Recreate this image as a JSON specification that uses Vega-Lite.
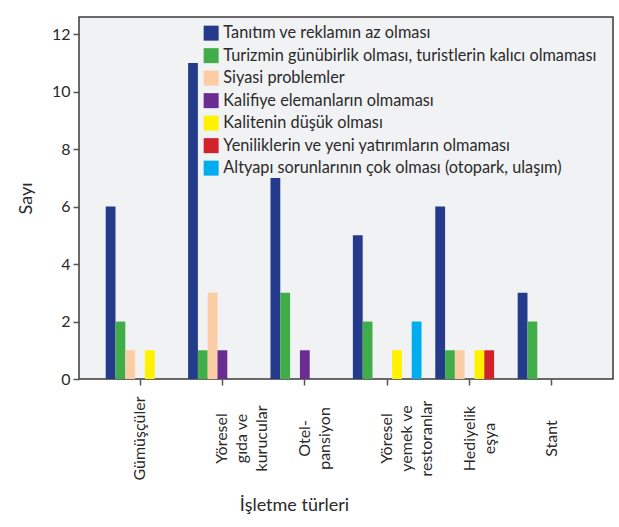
{
  "$schema": "https://vega.github.io/schema/vega-lite/v6.json",
  "width": 534,
  "height": 362,
  "autosize": {"type": "none"},
  "padding": {"left": 79, "top": 17, "right": 6, "bottom": 148},
  "background": "white",
  "config": {
    "font": "Lato",
    "view": {"fill": "#F1F2F4", "stroke": "#3a3a3a", "strokeWidth": 1.5},
    "axis": {"labelFont": "Lato", "titleFont": "Lato", "labelColor": "#2a2a2a", "titleColor": "#2a2a2a", "tickColor": "#555555", "domain": false, "grid": false}
  },
  "data": {
    "values": [
      {"isletme": "Gümüşçüler", "neden": "Tanıtım ve reklamın az olması", "sayi": 6},
      {"isletme": "Gümüşçüler", "neden": "Turizmin günübirlik olması, turistlerin kalıcı olmaması", "sayi": 2},
      {"isletme": "Gümüşçüler", "neden": "Siyasi problemler", "sayi": 1},
      {"isletme": "Gümüşçüler", "neden": "Kalifiye elemanların olmaması", "sayi": 0},
      {"isletme": "Gümüşçüler", "neden": "Kalitenin düşük olması", "sayi": 1},
      {"isletme": "Gümüşçüler", "neden": "Yeniliklerin ve yeni yatırımların olmaması", "sayi": 0},
      {"isletme": "Gümüşçüler", "neden": "Altyapı sorunlarının çok olması (otopark, ulaşım)", "sayi": 0},
      {"isletme": "Yöresel\ngıda ve\nkurucular", "neden": "Tanıtım ve reklamın az olması", "sayi": 11},
      {"isletme": "Yöresel\ngıda ve\nkurucular", "neden": "Turizmin günübirlik olması, turistlerin kalıcı olmaması", "sayi": 1},
      {"isletme": "Yöresel\ngıda ve\nkurucular", "neden": "Siyasi problemler", "sayi": 3},
      {"isletme": "Yöresel\ngıda ve\nkurucular", "neden": "Kalifiye elemanların olmaması", "sayi": 1},
      {"isletme": "Yöresel\ngıda ve\nkurucular", "neden": "Kalitenin düşük olması", "sayi": 0},
      {"isletme": "Yöresel\ngıda ve\nkurucular", "neden": "Yeniliklerin ve yeni yatırımların olmaması", "sayi": 0},
      {"isletme": "Yöresel\ngıda ve\nkurucular", "neden": "Altyapı sorunlarının çok olması (otopark, ulaşım)", "sayi": 0},
      {"isletme": "Otel-\npansiyon", "neden": "Tanıtım ve reklamın az olması", "sayi": 7},
      {"isletme": "Otel-\npansiyon", "neden": "Turizmin günübirlik olması, turistlerin kalıcı olmaması", "sayi": 3},
      {"isletme": "Otel-\npansiyon", "neden": "Siyasi problemler", "sayi": 0},
      {"isletme": "Otel-\npansiyon", "neden": "Kalifiye elemanların olmaması", "sayi": 1},
      {"isletme": "Otel-\npansiyon", "neden": "Kalitenin düşük olması", "sayi": 0},
      {"isletme": "Otel-\npansiyon", "neden": "Yeniliklerin ve yeni yatırımların olmaması", "sayi": 0},
      {"isletme": "Otel-\npansiyon", "neden": "Altyapı sorunlarının çok olması (otopark, ulaşım)", "sayi": 0},
      {"isletme": "Yöresel\nyemek ve\nrestoranlar", "neden": "Tanıtım ve reklamın az olması", "sayi": 5},
      {"isletme": "Yöresel\nyemek ve\nrestoranlar", "neden": "Turizmin günübirlik olması, turistlerin kalıcı olmaması", "sayi": 2},
      {"isletme": "Yöresel\nyemek ve\nrestoranlar", "neden": "Siyasi problemler", "sayi": 0},
      {"isletme": "Yöresel\nyemek ve\nrestoranlar", "neden": "Kalifiye elemanların olmaması", "sayi": 0},
      {"isletme": "Yöresel\nyemek ve\nrestoranlar", "neden": "Kalitenin düşük olması", "sayi": 1},
      {"isletme": "Yöresel\nyemek ve\nrestoranlar", "neden": "Yeniliklerin ve yeni yatırımların olmaması", "sayi": 0},
      {"isletme": "Yöresel\nyemek ve\nrestoranlar", "neden": "Altyapı sorunlarının çok olması (otopark, ulaşım)", "sayi": 2},
      {"isletme": "Hediyelik\neşya", "neden": "Tanıtım ve reklamın az olması", "sayi": 6},
      {"isletme": "Hediyelik\neşya", "neden": "Turizmin günübirlik olması, turistlerin kalıcı olmaması", "sayi": 1},
      {"isletme": "Hediyelik\neşya", "neden": "Siyasi problemler", "sayi": 1},
      {"isletme": "Hediyelik\neşya", "neden": "Kalifiye elemanların olmaması", "sayi": 0},
      {"isletme": "Hediyelik\neşya", "neden": "Kalitenin düşük olması", "sayi": 1},
      {"isletme": "Hediyelik\neşya", "neden": "Yeniliklerin ve yeni yatırımların olmaması", "sayi": 1},
      {"isletme": "Hediyelik\neşya", "neden": "Altyapı sorunlarının çok olması (otopark, ulaşım)", "sayi": 0},
      {"isletme": "Stant", "neden": "Tanıtım ve reklamın az olması", "sayi": 3},
      {"isletme": "Stant", "neden": "Turizmin günübirlik olması, turistlerin kalıcı olmaması", "sayi": 2},
      {"isletme": "Stant", "neden": "Siyasi problemler", "sayi": 0},
      {"isletme": "Stant", "neden": "Kalifiye elemanların olmaması", "sayi": 0},
      {"isletme": "Stant", "neden": "Kalitenin düşük olması", "sayi": 0},
      {"isletme": "Stant", "neden": "Yeniliklerin ve yeni yatırımların olmaması", "sayi": 0},
      {"isletme": "Stant", "neden": "Altyapı sorunlarının çok olması (otopark, ulaşım)", "sayi": 0}
    ]
  },
  "mark": {"type": "bar"},
  "encoding": {
    "x": {
      "field": "isletme",
      "type": "nominal",
      "sort": null,
      "scale": {"paddingInner": 0.167, "paddingOuter": 0.324},
      "axis": {
        "title": "İşletme türleri",
        "titleFontSize": 18,
        "titleFontWeight": "normal",
        "titleX": 215,
        "titlePadding": 16,
        "labelExpr": "split(datum.label, '\\n')",
        "labelAngle": -90,
        "labelAlign": "center",
        "labelBaseline": "middle",
        "labelFontSize": 16,
        "labelLineHeight": 20,
        "labelPadding": 53,
        "tickSize": 6,
        "tickWidth": 1.5
      }
    },
    "xOffset": {
      "field": "neden",
      "type": "nominal",
      "sort": null,
      "scale": {"domain": ["Tanıtım ve reklamın az olması", "Turizmin günübirlik olması, turistlerin kalıcı olmaması", "Siyasi problemler", "Kalifiye elemanların olmaması", "Kalitenin düşük olması", "Yeniliklerin ve yeni yatırımların olmaması", "Altyapı sorunlarının çok olması (otopark, ulaşım)"]}
    },
    "y": {
      "field": "sayi",
      "type": "quantitative",
      "scale": {"domain": [0, 12.6], "nice": false},
      "axis": {
        "title": "Sayı",
        "titleFontSize": 18,
        "titleFontWeight": "normal",
        "titlePadding": 16,
        "values": [0, 2, 4, 6, 8, 10, 12],
        "labelFontSize": 16,
        "labelPadding": 3,
        "tickSize": 6,
        "tickWidth": 1.5
      }
    },
    "color": {
      "field": "neden",
      "type": "nominal",
      "sort": null,
      "scale": {
        "domain": ["Tanıtım ve reklamın az olması", "Turizmin günübirlik olması, turistlerin kalıcı olmaması", "Siyasi problemler", "Kalifiye elemanların olmaması", "Kalitenin düşük olması", "Yeniliklerin ve yeni yatırımların olmaması", "Altyapı sorunlarının çok olması (otopark, ulaşım)"],
        "range": ["#243B8C", "#41AD49", "#FCCDA4", "#6A2C91", "#FFF200", "#D1232A", "#00AEEF"]
      },
      "legend": {
        "title": null,
        "orient": "none",
        "legendX": 124,
        "legendY": 8,
        "symbolType": "square",
        "symbolSize": 225,
        "symbolStrokeWidth": 0,
        "labelFontSize": 16.3,
        "labelColor": "#2a2a2a",
        "labelOffset": 4,
        "labelLimit": 500,
        "rowPadding": 5.5
      }
    }
  }
}
